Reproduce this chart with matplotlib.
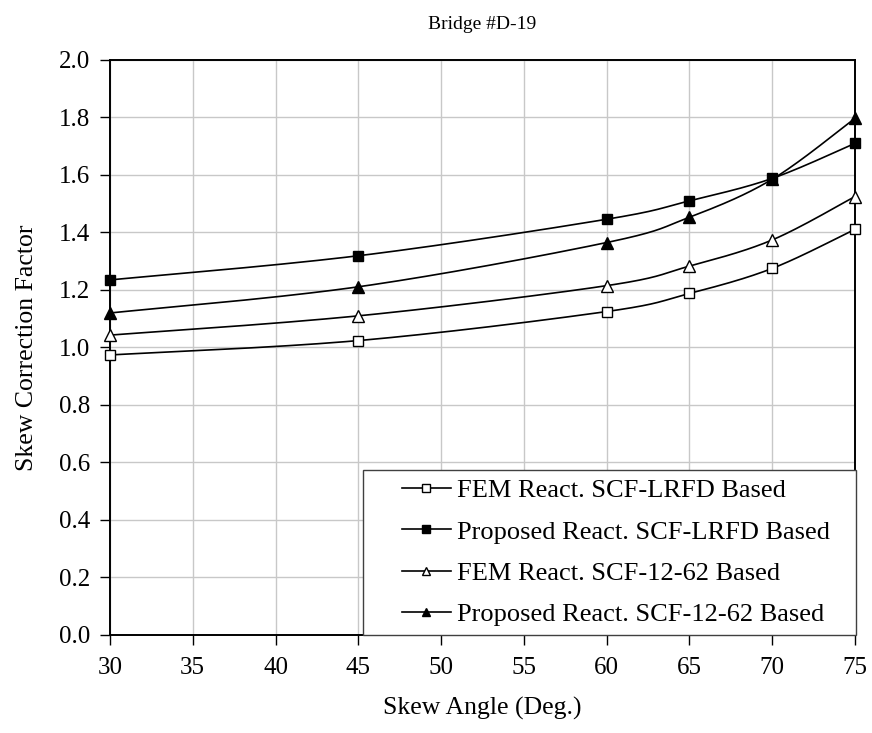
import numpy as np
import matplotlib
matplotlib.use("Agg")
import matplotlib.pyplot as plt
from matplotlib.patches import Rectangle

plt.rcParams['font.family'] = ['Liberation Serif', 'DejaVu Serif']

skew_angle = [30, 45, 60, 65, 70, 75]
fem_lrfd = [0.974, 1.024, 1.125, 1.188, 1.275, 1.411]
prop_lrfd = [1.235, 1.319, 1.446, 1.510, 1.588, 1.710]
fem_1262 = [1.043, 1.110, 1.215, 1.283, 1.374, 1.525]
prop_1262 = [1.120, 1.211, 1.365, 1.453, 1.585, 1.797]

labels = ["FEM React. SCF-LRFD Based",
          "Proposed React. SCF-LRFD Based",
          "FEM React. SCF-12-62 Based",
          "Proposed React. SCF-12-62 Based"]


def smooth(x, y, n=40):
    """Catmull-Rom style Bezier smoothing through every point."""
    x = np.asarray(x, float)
    y = np.asarray(y, float)
    px = np.concatenate([[x[0]], x, [x[-1]]])
    py = np.concatenate([[y[0]], y, [y[-1]]])
    xs, ys = [], []
    t = np.linspace(0, 1, n)
    for i in range(1, len(px) - 2):
        p0 = np.array([px[i], py[i]])
        p3 = np.array([px[i + 1], py[i + 1]])
        p1 = p0 + (np.array([px[i + 1], py[i + 1]]) - np.array([px[i - 1], py[i - 1]])) / 6
        p2 = p3 - (np.array([px[i + 2], py[i + 2]]) - np.array([px[i], py[i]])) / 6
        b = ((1 - t) ** 3)[:, None] * p0 + (3 * (1 - t) ** 2 * t)[:, None] * p1 \
            + (3 * (1 - t) * t ** 2)[:, None] * p2 + (t ** 3)[:, None] * p3
        xs.append(b[:, 0])
        ys.append(b[:, 1])
    return np.concatenate(xs), np.concatenate(ys)


fig = plt.figure(figsize=(8.72, 7.33), dpi=100)
ax = fig.add_axes([0.1261, 0.1337, 0.8544, 0.7845])

styles = [
    (fem_lrfd, 's', 'white', 7.5),
    (prop_lrfd, 's', 'black', 7.5),
    (fem_1262, '^', 'white', 8),
    (prop_1262, '^', 'black', 8),
]

handles = []
for (vals, mk, fc, ms), lab in zip(styles, labels):
    sx, sy = smooth(skew_angle, vals)
    ax.plot(sx, sy, color='black', lw=1.2, zorder=3)
    ax.plot(skew_angle, vals, linestyle='none', marker=mk, ms=ms,
            mfc=fc, mec='black', mew=1.0, zorder=4, clip_on=False)
    h, = ax.plot([], [], color='black', lw=1.2, marker=mk, ms=6,
                 mfc=fc, mec='black', mew=1.0, label=lab)
    handles.append(h)

ax.set_xlim(30, 75)
ax.set_ylim(0, 2.0)
ax.set_xticks(np.arange(30, 76, 5))
ax.set_yticks(np.arange(0, 2.01, 0.2))
ax.set_yticklabels([f"{v:.1f}" for v in np.arange(0, 2.01, 0.2)])
ax.grid(True, color='#c8c8c8', lw=1.0, zorder=0)
ax.set_axisbelow(True)
for sp in ax.spines.values():
    sp.set_linewidth(1.4)
    sp.set_color('black')
ax.tick_params(direction='out', length=7, width=1.0, labelsize=18)
ax.tick_params(axis='y', pad=7)
ax.tick_params(axis='x', pad=9)

ax.set_xlabel("Skew Angle (Deg.)", fontsize=18.5, labelpad=13)
ax.set_ylabel("Skew Correction Factor", fontsize=18.5, labelpad=15)
ax.set_title("Bridge #D-19", fontsize=14, pad=22)

# legend frame box sitting over the lower-right corner of the plot
frame = Rectangle((0.3396, 0.0), 0.6617, 0.287, transform=ax.transAxes,
                  facecolor='white', edgecolor='#404040', lw=1.0,
                  clip_on=False, zorder=9)
ax.add_patch(frame)

leg = ax.legend(handles=handles, loc='center left', fontsize=19,
                frameon=False, borderpad=0, borderaxespad=0,
                handlelength=1.85, handletextpad=0.25, labelspacing=0.68,
                bbox_to_anchor=(0.392, 0.1435))
leg.set_zorder(10)

fig.savefig("out.png", dpi=100)
